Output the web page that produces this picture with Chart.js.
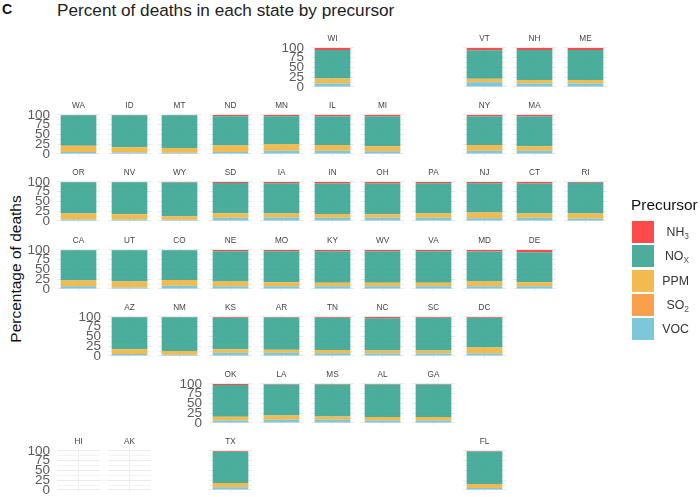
<!DOCTYPE html>
<html>
<head>
<meta charset="utf-8">
<title>Percent of deaths in each state by precursor</title>
<script src="https://cdn.jsdelivr.net/npm/chart.js@4/dist/chart.umd.min.js"></script>
<style>
  html, body { margin: 0; padding: 0; background: #fff; }
  #page { position: relative; width: 700px; height: 497px; overflow: hidden; font-family: 'Liberation Sans', sans-serif; }
  #page canvas { position: absolute; }
  .txt { position: absolute; white-space: nowrap; line-height: 1; }
  .swatch { position: absolute; width: 22px; height: 22px; }
  sub { font-size: 0.68em; line-height: 0; vertical-align: -0.3em; color: #555; }
</style>
</head>
<body>
<div id="page">
  <div class="txt" style="left:2px;top:2px;font-size:14px;font-weight:bold;color:#111">C</div>
  <div class="txt" style="left:57px;top:2px;font-size:17.2px;color:#222">Percent of deaths in each state by precursor</div>
  <div class="txt" style="left:16px;top:269px;font-size:15.5px;color:#111;transform:translate(-50%,-50%) rotate(-90deg)">Percentage of deaths</div>
</div>
<script>
(function() {
  'use strict';

  var STATES = ['WI','VT','NH','ME','WA','ID','MT','ND','MN','IL','MI','NY','MA','OR','NV','WY','SD','IA','IN','OH','PA','NJ','CT','RI','CA','UT','CO','NE','MO','KY','WV','VA','MD','DE','AZ','NM','KS','AR','TN','NC','SC','DC','OK','LA','MS','AL','GA','HI','AK','TX','FL'];

  var NH3 = [5,6,5,5,0.5,0.5,0.5,3,3,4,4,4,4,0.5,0.5,1,2.5,3,4,4,3,3,4,2,0.5,0.5,0.5,3,3,3,3,3,4,6,0.5,0.5,2,1,2,3,2,2,2.5,1,1.5,1.5,1.5,null,null,2,1.5];
  var NOX = [73,73,77,77,78.5,82.5,84.5,75,72,73,76,73,76,80.5,82.5,87,77.5,78,78,79,78,75,77,79,77.5,80.5,76.5,78,80,81,81,81,77,77,82.5,86.5,81,83,83,83,84,76,81.5,80,82,83,83,null,null,80,83.5];
  var PPM = [13,9,9,9,16,13,12,17,17,15,13,15,12,15,13,9,12,10,10,9,11,15,11,13,15,15,15,12,10,9,9,9,12,10,12,10,9,8,8,8,8,16,10,11,8.5,9.5,9.5,null,null,11,10];
  var SO2 = [0,0,0,0,0,0,0,0,0,0,0,0,0,0,0,0,0,0,0,0,0,0,0,0,0,0,0,0,0,0,0,0,0,0,0,0,0,0,0,0,0,0,0,0,0,0,0,null,null,0,0];
  var VOC = [9,12,9,9,5,4,3,5,8,8,7,8,8,4,4,3,8,9,8,8,8,7,8,6,7,4,8,7,7,7,7,7,7,7,5,3,8,8,7,6,6,6,6,8,8,6,6,null,null,7,5];

  var Y_TICKS = [0, 25, 50, 75, 100];

  // geofacet layout, one row per line, '.' is an empty cell
  var GRID_ROWS = [
    '. . . . . WI . . VT NH ME',
    'WA ID MT ND MN IL MI . NY MA .',
    'OR NV WY SD IA IN OH PA NJ CT RI',
    'CA UT CO NE MO KY WV VA MD DE .',
    '. AZ NM KS AR TN NC SC DC . .',
    '. . . OK LA MS AL GA . . .',
    'HI AK . TX . . . . FL . .'
  ];
  var LABELLED = ['WI', 'WA', 'OR', 'CA', 'AZ', 'OK', 'HI'];

  var COLORS = {
    NH3: 'rgba(253,55,55,0.9)',
    NOX: 'rgba(55,165,145,0.9)',
    PPM: 'rgba(242,180,60,0.9)',
    SO2: 'rgba(248,150,60,0.9)',
    VOC: 'rgba(112,192,214,0.9)'
  };

  var FONT = "'Liberation Sans', sans-serif";
  var AXIS_W = 40, STRIP_H = 16, PANEL_W = 43, PANEL_H = 43;
  var BOTTOM_GAP = 15; // space Chart.js keeps under the plot, also room for the "0" label
  var page = document.getElementById('page');

  function drawPanel(code, i, left, top) {
    var canvas = document.createElement('canvas');
    canvas.width = AXIS_W + PANEL_W;
    canvas.height = STRIP_H + PANEL_H + BOTTOM_GAP;
    canvas.style.left = (left - AXIS_W) + 'px';
    canvas.style.top = (top - STRIP_H) + 'px';
    page.appendChild(canvas);

    var showLabels = LABELLED.indexOf(code) >= 0;
    function series(name, values, color) {
      return { label: name, data: [values[i]], backgroundColor: color, borderWidth: 0, barPercentage: 0.83, categoryPercentage: 1 };
    }

    new Chart(canvas, {
      type: 'bar',
      data: {
        labels: [code],
        // stack runs bottom up, so VOC goes first
        datasets: [
          series('VOC', VOC, COLORS.VOC),
          series('SO2', SO2, COLORS.SO2),
          series('PPM', PPM, COLORS.PPM),
          series('NOx', NOX, COLORS.NOX),
          series('NH3', NH3, COLORS.NH3)
        ]
      },
      options: {
        responsive: false,
        maintainAspectRatio: false,
        animation: false,
        layout: { autoPadding: false, padding: 0 },
        plugins: {
          legend: { display: false },
          title: {
            display: true,
            text: code,
            fullSize: false,
            color: '#444',
            font: { family: FONT, size: 8.2, weight: 'normal', lineHeight: 1.2 },
            padding: { top: 3.8, bottom: 2.4 }
          }
        },
        scales: {
          x: {
            stacked: true,
            afterFit: function(scale) { scale.height = 0; },
            border: { display: false },
            grid: { offset: false, color: '#ebebeb', drawTicks: false },
            ticks: { display: false }
          },
          y: {
            stacked: true,
            min: -5,
            max: 105,
            afterFit: function(scale) { scale.width = AXIS_W; },
            border: { display: false },
            grid: {
              drawTicks: false,
              color: function(ctx) {
                return ctx.tick && Y_TICKS.indexOf(ctx.tick.value) >= 0 ? '#ebebeb' : '#f4f4f4';
              }
            },
            ticks: {
              stepSize: 12.5,
              includeBounds: false,
              autoSkip: false,
              padding: 7,
              color: '#5a5a5a',
              font: { family: FONT, size: 13.5 },
              callback: function(value) {
                return showLabels && Y_TICKS.indexOf(value) >= 0 ? String(value) : '';
              }
            }
          }
        }
      }
    });
  }

  GRID_ROWS.forEach(function(line, r) {
    line.split(' ').forEach(function(code, c) {
      if (code === '.') return;
      drawPanel(code, STATES.indexOf(code), Math.round(57 + 50.7 * c), Math.round(45.7 + 67.27 * r));
    });
  });

  /* legend */
  var LEGEND_TITLE = 'Precursor';
  var LEGEND_LABELS = ['NH<sub>3</sub>', 'NO<sub>X</sub>', 'PPM', 'SO<sub>2</sub>', 'VOC'];
  var LEGEND_COLORS = [COLORS.NH3, COLORS.NOX, COLORS.PPM, COLORS.SO2, COLORS.VOC];

  var head = document.createElement('div');
  head.className = 'txt';
  head.style.cssText = 'left:631px;top:197px;font-size:15.4px;color:#111';
  head.textContent = LEGEND_TITLE;
  page.appendChild(head);

  LEGEND_LABELS.forEach(function(label, k) {
    var y = 221 + 24.3 * k;
    var box = document.createElement('div');
    box.className = 'swatch';
    box.style.left = '632px';
    box.style.top = y + 'px';
    box.style.background = LEGEND_COLORS[k];
    page.appendChild(box);

    var txt = document.createElement('div');
    txt.className = 'txt';
    txt.style.cssText = 'right:11px;top:' + (y + 5) + 'px;font-size:12.3px;color:#333';
    txt.innerHTML = label;
    page.appendChild(txt);
  });
})();
</script>
</body>
</html>
